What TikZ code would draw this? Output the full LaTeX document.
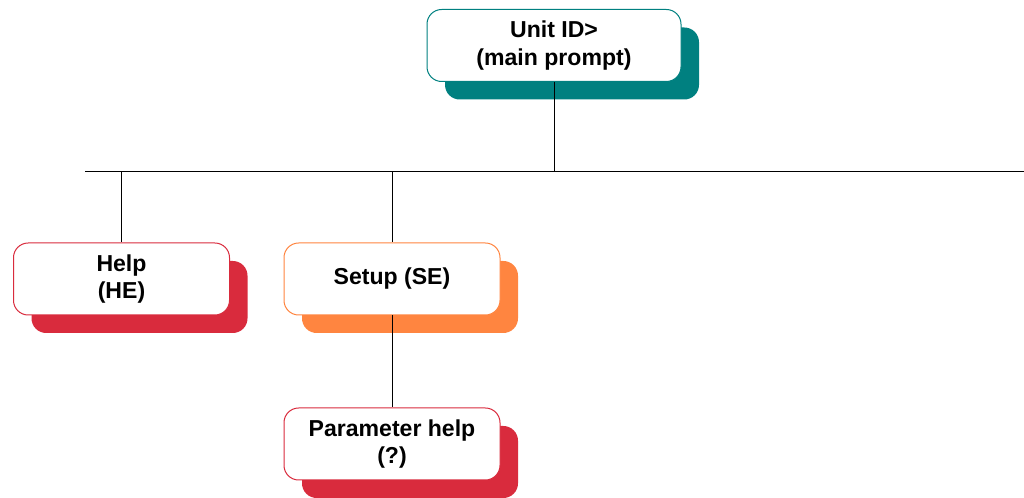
\documentclass[tikz,border=0pt]{standalone}
\usepackage{fontspec}
\setmainfont{Liberation Sans}
\usetikzlibrary{shadows}
\definecolor{tealbox}{RGB}{0,128,128}
\definecolor{redbox}{RGB}{217,43,61}
\definecolor{orangebox}{RGB}{255,133,64}
\tikzset{
  menu/.style={draw=#1,fill=white,line width=0.75pt,rounded corners=11pt,
    minimum width=162pt,minimum height=54pt,align=center,
    font=\fontsize{17.3}{20.5}\selectfont\bfseries,
    general shadow={fill=#1,shadow xshift=13.5pt,shadow yshift=-13.5pt}},
  link/.style={line width=0.75pt,black}
}
\begin{document}
\begin{tikzpicture}[x=0.75pt,y=-0.75pt]
\useasboundingbox (0,0) rectangle (1024,498);
\node[menu=tealbox,minimum width=190.5pt] (main) at (554,45.5) {Unit ID>\\(main prompt)};
\node[menu=redbox] (help) at (121.5,279) {Help\\(HE)};
\node[menu=orangebox] (setup) at (392,279) {Setup (SE)};
\node[menu=redbox] (param) at (392,444) {Parameter help\\(?)};
\coordinate (busL) at (85,172);
\coordinate (busR) at (1024,172);
\draw[link] (busL) -- (busR);
\draw[link] (main.south) -- (main.south |- busL);
\draw[link] (help.north |- busL) -- (help.north);
\draw[link] (setup.north |- busL) -- (setup.north);
\draw[link] (setup.south) -- (param.north);
\end{tikzpicture}
\end{document}
